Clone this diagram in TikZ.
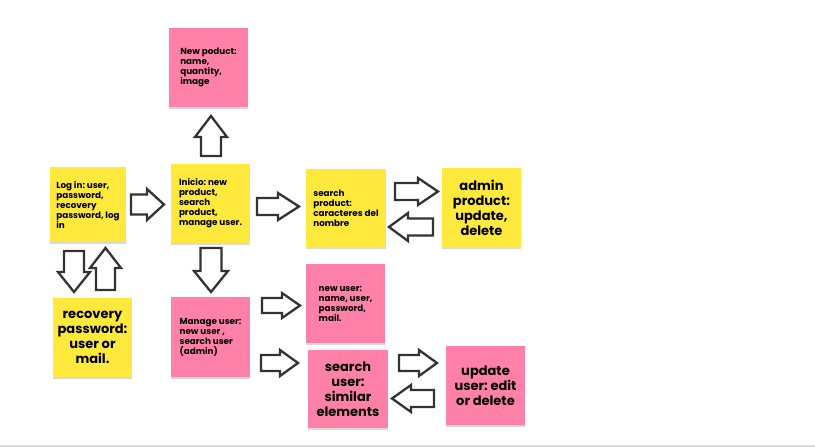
\documentclass[tikz,border=0pt]{standalone}
\usepackage{fontspec}
\setmainfont{Poppins}
\usetikzlibrary{shadows}
\definecolor{yel}{HTML}{FFE93D}
\definecolor{pnk}{HTML}{FF81AA}
\definecolor{agray}{HTML}{333333}
\definecolor{lgray}{HTML}{DADADA}
\tikzset{
  note/.style={draw=none, inner sep=2pt, outer sep=0pt,
    drop shadow={shadow xshift=0pt, shadow yshift=-1.5pt, opacity=0.25, fill=black!60},
    font=\frenchspacing\fontsize{8.8}{10}\selectfont\bfseries, align=left, text=black},
  bignote/.style={note, font=\frenchspacing\fontsize{13}{15}\selectfont\bfseries, align=center},
  arrowline/.style={draw=agray, fill=white, line width=2.3pt, line join=miter}
}
% name, center, rotation, length, width, shaft, head length
\newcommand{\barrow}[7]{%
  \coordinate (#1) at (#2);
  \draw[arrowline, shift={(#1)}, rotate=#3]
    ({-(#4)/2},{-(#6)/2}) -- ({(#4)/2-(#7)},{-(#6)/2}) -- ({(#4)/2-(#7)},{-(#5)/2})
    -- ({(#4)/2},0) -- ({(#4)/2-(#7)},{(#5)/2}) -- ({(#4)/2-(#7)},{(#6)/2})
    -- ({-(#4)/2},{(#6)/2}) -- cycle;}
\begin{document}
\begin{tikzpicture}[x=1pt,y=-1pt]
\useasboundingbox (0,0) rectangle (815,447);
\fill[lgray] (0,445) rectangle (815,447);

% boxes
\node[note, fill=yel, minimum width=76pt, minimum height=75pt] (login) at (88,204.5)
  {Log in: user,\\password,\\recovery\\password, log\\in};
\node[note, fill=yel, minimum width=79pt, minimum height=79pt] (inicio) at (210.5,203.5)
  {Inicio: new\\product,\\search\\product,\\manage user.};
\node[note, fill=pnk, minimum width=79pt, minimum height=79pt] (newprod) at (208.5,67.5)
  {New poduct:\\name,\\quantity,\\image};
\node[note, fill=yel, minimum width=80pt, minimum height=78pt] (searchprod) at (346,208)
  {search\\product:\\caracteres del\\nombre};
\node[bignote, fill=yel, minimum width=79pt, minimum height=79pt] (admin) at (481.5,207.5)
  {admin\\product:\\update,\\delete};
\node[bignote, fill=yel, minimum width=79pt, minimum height=79pt] (recovery) at (92.5,337.5)
  {recovery\\password:\\user or\\mail.};
\node[note, fill=pnk, minimum width=79pt, minimum height=80pt] (manage) at (210.5,337)
  {Manage user:\\new user ,\\search user\\(admin)};
\node[note, fill=pnk, minimum width=79pt, minimum height=79pt] (newuser) at (345.5,303.5)
  {new user:\\name, user,\\password,\\mail.};
\node[bignote, fill=pnk, minimum width=80pt, minimum height=78pt] (searchuser) at (348,389)
  {search\\user:\\similar\\elements};
\node[bignote, fill=pnk, minimum width=79pt, minimum height=79pt] (update) at (485.5,385.5)
  {update\\user: edit\\or delete};

% block arrows
\barrow{a1}{147.5,204.5}{0}{33}{31}{20}{17}
\barrow{a2}{278,206.5}{0}{42}{27}{17}{21}
\barrow{a3}{211,136}{90}{40}{32}{20}{21}
\barrow{a4}{416.5,191.5}{0}{43}{27}{17}{20}
\barrow{a5}{411,227}{180}{44}{28}{17}{19}
\barrow{a6}{74,271.5}{-90}{41}{32}{20}{20}
\barrow{a7}{105.5,269}{90}{42}{31}{19}{20}
\barrow{a8}{211,270}{-90}{44}{34}{21}{21}
\barrow{a9}{281,305.5}{0}{38}{25}{15}{18}
\barrow{a10}{279.5,363}{0}{37}{26}{16}{18}
\barrow{a11}{418,363}{0}{38}{26}{16}{18}
\barrow{a12}{413,398.5}{180}{42}{27}{17}{19}
\end{tikzpicture}
\end{document}
